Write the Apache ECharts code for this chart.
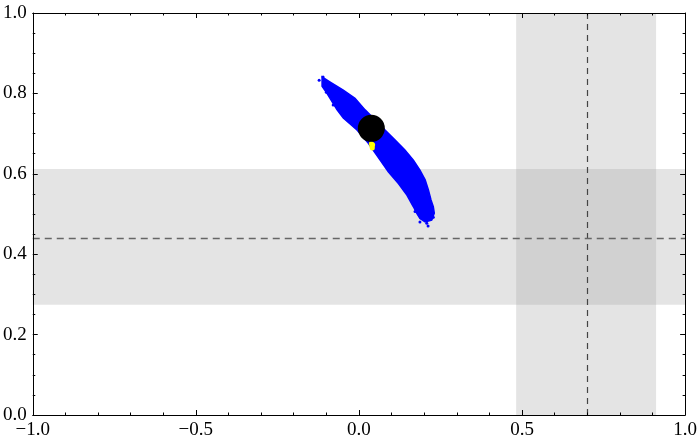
<!DOCTYPE html>
<html>
<head>
<meta charset="utf-8">
<script src="https://cdn.jsdelivr.net/npm/echarts@6/dist/echarts.min.js"></script>
<style>
  html, body { margin: 0; padding: 0; background: #fff; }
  #main { width: 700px; height: 447px; }
</style>
</head>
<body>
<div id="main"></div>
<script>
// axis ranges and ticks
var xRange = [-1, 1]
var yRange = [0, 1]
var xStep = 0.5
var yStep = 0.2

// shaded bands (x band full height, y band full width)
var xBand = [0.482, 0.911]
var yBand = [0.274, 0.612]
// dashed reference lines
var xRef = 0.703
var yRef = 0.44

// outline of the dense blue cloud
var cloudX = [-0.113, -0.088, -0.048, -0.012, 0.019, 0.080, 0.111, 0.141, 0.167, 0.187, 0.203, 0.213, 0.221, 0.228, 0.231, 0.223,
  0.203, 0.187, 0.177, 0.167, 0.147, 0.121, 0.090, 0.065, 0.029, -0.006, -0.048, -0.067, -0.082, -0.097, -0.113]
var cloudY = [0.841, 0.828, 0.808, 0.788, 0.759, 0.709, 0.684, 0.659, 0.634, 0.609, 0.585, 0.560, 0.535, 0.518, 0.502, 0.485,
  0.480, 0.489, 0.502, 0.518, 0.547, 0.576, 0.605, 0.634, 0.676, 0.709, 0.739, 0.759, 0.779, 0.799, 0.818]

// loose blue points around the cloud edges
var strayX = [-0.122, -0.110, -0.103, -0.100, -0.079, 0.172, 0.208, 0.228, 0.187, 0.212, 0.224]
var strayY = [0.833, 0.841, 0.831, 0.803, 0.771, 0.506, 0.477, 0.492, 0.480, 0.470, 0.490]

// yellow points (mostly under the black dot)
var yellowX = [0.040, 0.042, 0.038, 0.041]
var yellowY = [0.668, 0.672, 0.675, 0.664]

// big black point
var bigX = [0.038]
var bigY = [0.713]

function zip(xs, ys) {
  return xs.map(function (v, i) { return [v, ys[i]] })
}

function fmt(v) {
  return (v < 0 ? '\u2212' : '') + Math.abs(v).toFixed(1)
}

var font = { fontFamily: 'Liberation Serif', fontSize: 19, color: '#000' }

function axisBase(extra) {
  return Object.assign({
    type: 'value',
    z: 10,
    axisLine: { show: true, onZero: false, lineStyle: { color: '#000', width: 1 } },
    axisTick: { show: true, inside: true, length: 5, lineStyle: { color: '#000' } },
    splitLine: { show: false },
    minorSplitLine: { show: false }
  }, extra)
}

var chart = echarts.init(document.getElementById('main'))
var option = {
  animation: false,
  grid: { left: 32, right: 14, top: 13, bottom: 32 },
  xAxis: [
    axisBase({
      position: 'bottom', min: xRange[0], max: xRange[1], interval: xStep,
      minorTick: { show: true, splitNumber: 5, length: 2.5, lineStyle: { color: '#000' } },
      axisLabel: Object.assign({ margin: 6, formatter: fmt, showMinLabel: true, showMaxLabel: true }, font)
    }),
    axisBase({
      position: 'top', min: xRange[0], max: xRange[1], interval: xStep,
      minorTick: { show: true, splitNumber: 5, length: 2.5, lineStyle: { color: '#000' } },
      axisLabel: { show: false }
    })
  ],
  yAxis: [
    axisBase({
      position: 'left', min: yRange[0], max: yRange[1], interval: yStep,
      minorTick: { show: true, splitNumber: 4, length: 2.5, lineStyle: { color: '#000' } },
      axisLabel: Object.assign({ margin: 6, formatter: fmt, showMinLabel: true, showMaxLabel: true }, font)
    }),
    axisBase({
      position: 'right', min: yRange[0], max: yRange[1], interval: yStep,
      minorTick: { show: true, splitNumber: 4, length: 2.5, lineStyle: { color: '#000' } },
      axisLabel: { show: false }
    })
  ],
  series: [
    {
      // bands and dashed guide lines
      type: 'scatter',
      z: 1,
      data: [],
      markArea: {
        silent: true,
        data: [
          [{ xAxis: xBand[0], yAxis: yRange[0], itemStyle: { color: '#e4e4e4', opacity: 1 } }, { xAxis: xBand[1], yAxis: yRange[1] }],
          [{ xAxis: xRange[0], yAxis: yBand[0], itemStyle: { color: '#e4e4e4', opacity: 1 } }, { xAxis: xRange[1], yAxis: yBand[1] }],
          [{ xAxis: xBand[0], yAxis: yBand[0], itemStyle: { color: '#d1d1d1', opacity: 1 } }, { xAxis: xBand[1], yAxis: yBand[1] }]
        ]
      },
      markLine: {
        silent: true,
        symbol: 'none',
        label: { show: false },
        data: [
          { xAxis: xRef, lineStyle: { color: '#444', width: 1.2, type: [6, 5] } },
          { yAxis: yRef, lineStyle: { color: '#666', width: 1.4, type: [7, 5] } }
        ]
      }
    },
    {
      // dense cloud body
      type: 'custom',
      z: 3,
      silent: true,
      data: [[cloudX[0], cloudY[0]]],
      renderItem: function (params, api) {
        var pts = zip(cloudX, cloudY).map(function (p) { return api.coord(p) })
        return {
          type: 'polygon',
          shape: { points: pts },
          style: { fill: '#0000ff', stroke: '#0000ff', lineWidth: 1.5 }
        }
      }
    },
    {
      type: 'scatter',
      z: 3,
      symbolSize: 3,
      itemStyle: { color: '#0000ff', opacity: 1 },
      data: zip(strayX, strayY)
    },
    {
      type: 'scatter',
      z: 4,
      symbolSize: 5,
      itemStyle: { color: '#ffff00', opacity: 1 },
      data: zip(yellowX, yellowY)
    },
    {
      type: 'scatter',
      z: 5,
      symbolSize: 27,
      itemStyle: { color: '#000', opacity: 1 },
      data: zip(bigX, bigY)
    }
  ]
}
chart.setOption(option)
</script>
</body>
</html>
